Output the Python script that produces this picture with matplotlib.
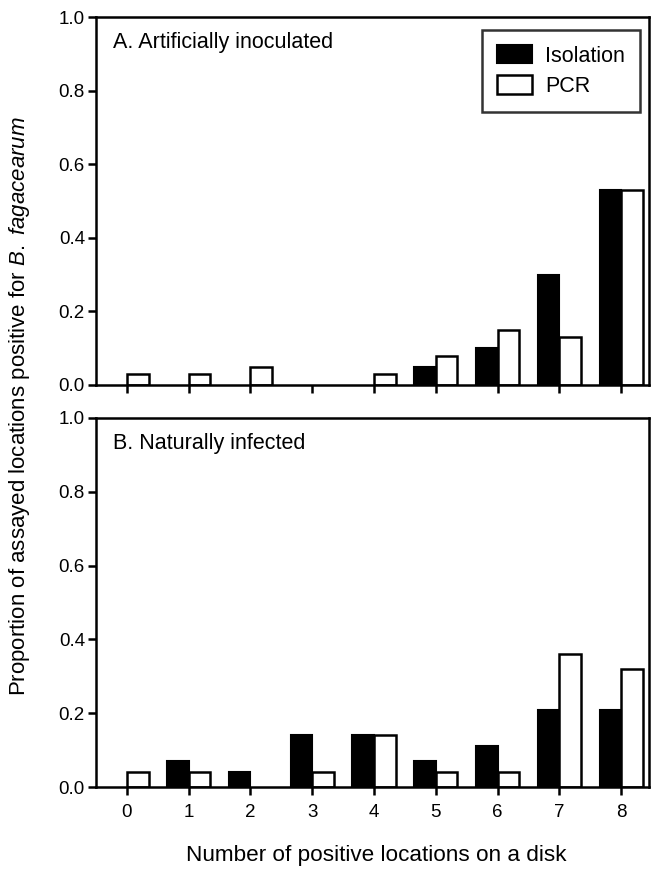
import matplotlib
matplotlib.use('Agg')
import matplotlib.pyplot as plt
import numpy as np

plt.rcParams['font.family'] = ['Liberation Sans', 'DejaVu Sans']
plt.rcParams['mathtext.fontset'] = 'custom'
plt.rcParams['mathtext.rm'] = 'Liberation Sans'
plt.rcParams['mathtext.it'] = 'Liberation Sans:italic'

# Number of positive locations on a disk
positions = [0, 1, 2, 3, 4, 5, 6, 7, 8]

# A. Artificially inoculated
iso_a = [0.00, 0.00, 0.00, 0.00, 0.00, 0.05, 0.10, 0.30, 0.53]
pcr_a = [0.03, 0.03, 0.05, 0.00, 0.03, 0.08, 0.15, 0.13, 0.53]

# B. Naturally infected
iso_b = [0.00, 0.07, 0.04, 0.14, 0.14, 0.07, 0.11, 0.21, 0.21]
pcr_b = [0.04, 0.04, 0.00, 0.04, 0.14, 0.04, 0.04, 0.36, 0.32]

yticks = [0.0, 0.2, 0.4, 0.6, 0.8, 1.0]

W, H = 652, 869
fig = plt.figure(figsize=(W / 100, H / 100), dpi=100)


def px_axes(left, top, right, bottom):
    return fig.add_axes([left / W, 1 - bottom / H, (right - left) / W, (bottom - top) / H])


ax_a = px_axes(96, 17, 649, 385)
ax_b = px_axes(96, 418, 649, 787)

x = np.array(positions)
bw = 0.35
for ax, iso, pcr, title in [(ax_a, iso_a, pcr_a, 'A. Artificially inoculated'),
                            (ax_b, iso_b, pcr_b, 'B. Naturally infected')]:
    iso = np.array(iso)
    pcr = np.array(pcr)
    # empty categories get no bar at all (no flat outline on the baseline)
    ax.bar(x[iso > 0] - bw / 2, iso[iso > 0], width=bw, color='black',
           edgecolor='black', linewidth=1.5, label='Isolation')
    ax.bar(x[pcr > 0] + bw / 2, pcr[pcr > 0], width=bw, color='white',
           edgecolor='black', linewidth=1.8, label='PCR')
    ax.set_xlim(-0.5, 8.45)
    ax.set_ylim(0, 1.0)
    ax.set_yticks(yticks)
    ax.set_yticklabels([f'{v:.1f}' for v in yticks])
    ax.set_xticks(positions)
    for s in ax.spines.values():
        s.set_linewidth(1.8)
    ax.tick_params(direction='out', length=6, width=1.8, labelsize=13.5, pad=2)
    ax.text(0.03, 0.93, title, transform=ax.transAxes, fontsize=15.5,
            ha='left', va='center')

ax_a.tick_params(axis='x', labelbottom=False)
ax_b.set_xticklabels([str(p) for p in positions])
ax_b.tick_params(axis='x', pad=6)

leg = ax_a.legend(loc='upper right', bbox_to_anchor=(0.9837, 0.9647), fontsize=15.5,
                  frameon=True, fancybox=False, edgecolor='black',
                  handlelength=1.63, handleheight=0.93, borderpad=0.7,
                  labelspacing=0.4, handletextpad=0.6, borderaxespad=0)
leg.get_frame().set_linewidth(1.8)

fig.text(376 / W, 1 - 855 / H, 'Number of positive locations on a disk',
         ha='center', va='center', fontsize=16.2)
fig.text(20 / W, 1 - 406 / H,
         r'Proportion of assayed locations positive for $\mathit{B.}$ $\mathit{fagacearum}$',
         ha='center', va='center', rotation=90, fontsize=16)

fig.savefig('out.png', dpi=100)
